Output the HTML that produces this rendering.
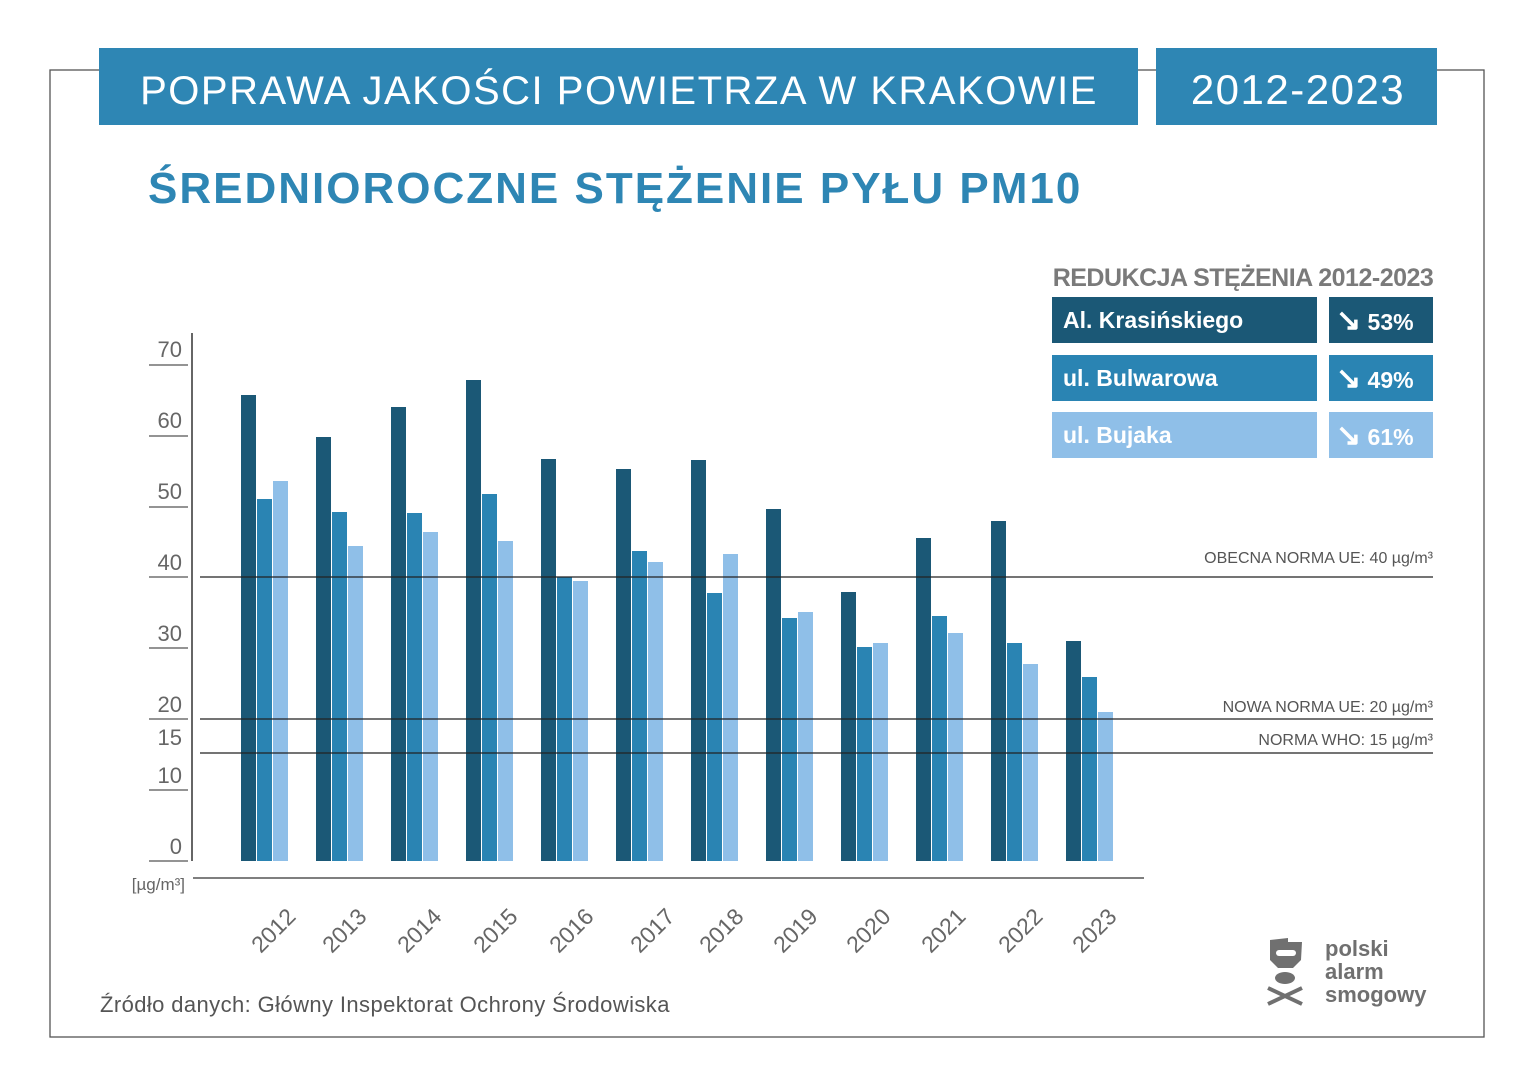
<!DOCTYPE html>
<html><head><meta charset="utf-8"><style>
html,body{margin:0;padding:0;background:#fff;}
svg{display:block;}
</style></head><body>
<svg width="1536" height="1083" viewBox="0 0 1536 1083" xmlns="http://www.w3.org/2000/svg" font-family="Liberation Sans, sans-serif">
<rect width="1536" height="1083" fill="#fff"/>
<rect x="50" y="70" width="1434" height="967" fill="none" stroke="#555" stroke-width="1.3"/>
<rect x="99" y="48" width="1039" height="77" fill="#2e86b4"/>
<rect x="1156" y="48" width="281" height="77" fill="#2e86b4"/>
<text x="619" y="104" text-anchor="middle" fill="#fff" font-size="40" letter-spacing="1.5">POPRAWA JAKOŚCI POWIETRZA W KRAKOWIE</text>
<text x="1298" y="104" text-anchor="middle" fill="#fff" font-size="42" letter-spacing="1.5">2012-2023</text>
<text x="148" y="203" fill="#2e86b4" font-size="44" font-weight="bold" letter-spacing="2">ŚREDNIOROCZNE STĘŻENIE PYŁU PM10</text>
<text x="1243" y="286" text-anchor="middle" fill="#7a7a7a" font-size="25" font-weight="bold" letter-spacing="-0.5">REDUKCJA STĘŻENIA 2012-2023</text>
<rect x="1052" y="297" width="265" height="46" fill="#1b5876"/>
<rect x="1329" y="297" width="104" height="46" fill="#1b5876"/>
<rect x="1052" y="355" width="265" height="46" fill="#2a84b3"/>
<rect x="1329" y="355" width="104" height="46" fill="#2a84b3"/>
<rect x="1052" y="412" width="265" height="46" fill="#8fbfe8"/>
<rect x="1329" y="412" width="104" height="46" fill="#8fbfe8"/>
<g fill="#fff" font-size="23" font-weight="bold">
<text x="1063" y="328">Al. Krasińskiego</text>
<text x="1063" y="386">ul. Bulwarowa</text>
<text x="1063" y="443">ul. Bujaka</text>
<text x="1336" y="330"><tspan font-size="30">↘</tspan> 53%</text>
<text x="1336" y="388"><tspan font-size="30">↘</tspan> 49%</text>
<text x="1336" y="445"><tspan font-size="30">↘</tspan> 61%</text>
</g>
<!-- axis -->
<line x1="192" y1="333" x2="192" y2="861" stroke="#333" stroke-width="1.5"/>
<line x1="193" y1="878" x2="1144" y2="878" stroke="#555" stroke-width="1.5"/>
<g stroke="#555" stroke-width="1.3">
<line x1="149" y1="365" x2="188" y2="365"/><line x1="149" y1="436" x2="188" y2="436"/>
<line x1="149" y1="507" x2="188" y2="507"/><line x1="149" y1="577" x2="188" y2="577"/>
<line x1="149" y1="648" x2="188" y2="648"/><line x1="149" y1="719" x2="188" y2="719"/>
<line x1="149" y1="790" x2="188" y2="790"/><line x1="149" y1="861" x2="188" y2="861"/>
</g>
<g fill="#666" font-size="22" text-anchor="end">
<text x="182" y="357">70</text><text x="182" y="428">60</text><text x="182" y="499">50</text>
<text x="182" y="570">40</text><text x="182" y="641">30</text><text x="182" y="712">20</text>
<text x="182" y="745">15</text><text x="182" y="783">10</text><text x="182" y="854">0</text>
</g>
<text x="185" y="890" text-anchor="end" fill="#666" font-size="17">[µg/m³]</text>
<!-- bars -->
<g>
<g fill="#1b5876">
<rect x="241" y="395" width="15" height="466"/><rect x="316" y="437" width="15" height="424"/>
<rect x="391" y="407" width="15" height="454"/><rect x="466" y="380" width="15" height="481"/>
<rect x="541" y="459" width="15" height="402"/><rect x="616" y="469" width="15" height="392"/>
<rect x="691" y="460" width="15" height="401"/><rect x="766" y="509" width="15" height="352"/>
<rect x="841" y="592" width="15" height="269"/><rect x="916" y="538" width="15" height="323"/>
<rect x="991" y="521" width="15" height="340"/><rect x="1066" y="641" width="15" height="220"/>
</g>
<g fill="#2a84b3">
<rect x="257" y="499" width="15" height="362"/><rect x="332" y="512" width="15" height="349"/>
<rect x="407" y="513" width="15" height="348"/><rect x="482" y="494" width="15" height="367"/>
<rect x="557" y="577" width="15" height="284"/><rect x="632" y="551" width="15" height="310"/>
<rect x="707" y="593" width="15" height="268"/><rect x="782" y="618" width="15" height="243"/>
<rect x="857" y="647" width="15" height="214"/><rect x="932" y="616" width="15" height="245"/>
<rect x="1007" y="643" width="15" height="218"/><rect x="1082" y="677" width="15" height="184"/>
</g>
<g fill="#8fbfe8">
<rect x="273" y="481" width="15" height="380"/><rect x="348" y="546" width="15" height="315"/>
<rect x="423" y="532" width="15" height="329"/><rect x="498" y="541" width="15" height="320"/>
<rect x="573" y="581" width="15" height="280"/><rect x="648" y="562" width="15" height="299"/>
<rect x="723" y="554" width="15" height="307"/><rect x="798" y="612" width="15" height="249"/>
<rect x="873" y="643" width="15" height="218"/><rect x="948" y="633" width="15" height="228"/>
<rect x="1023" y="664" width="15" height="197"/><rect x="1098" y="712" width="15" height="149"/>
</g>
</g>
<!-- norm lines -->
<g stroke="#222" stroke-width="1.3">
<line x1="200" y1="577" x2="1433" y2="577"/>
<line x1="200" y1="719" x2="1433" y2="719"/>
<line x1="200" y1="753" x2="1433" y2="753"/>
</g>
<g fill="#555" font-size="16" text-anchor="end">
<text x="1433" y="563">OBECNA NORMA UE: 40 µg/m³</text>
<text x="1433" y="712">NOWA NORMA UE: 20 µg/m³</text>
<text x="1433" y="745">NORMA WHO: 15 µg/m³</text>
</g>
<g fill="#666" font-size="23" text-anchor="end">
<text transform="translate(297,918) rotate(-45)">2012</text>
<text transform="translate(368,918) rotate(-45)">2013</text>
<text transform="translate(443,918) rotate(-45)">2014</text>
<text transform="translate(519,918) rotate(-45)">2015</text>
<text transform="translate(595,918) rotate(-45)">2016</text>
<text transform="translate(676,918) rotate(-45)">2017</text>
<text transform="translate(745,918) rotate(-45)">2018</text>
<text transform="translate(819,918) rotate(-45)">2019</text>
<text transform="translate(892,918) rotate(-45)">2020</text>
<text transform="translate(967,918) rotate(-45)">2021</text>
<text transform="translate(1044,918) rotate(-45)">2022</text>
<text transform="translate(1118,918) rotate(-45)">2023</text>
</g>
<text x="100" y="1012" fill="#555" font-size="22" letter-spacing="0.4">Źródło danych: Główny Inspektorat Ochrony Środowiska</text>
<!-- logo -->
<g fill="#707070">
<path d="M1270 940 L1288 938 L1288 942 L1302 942 L1301 960 L1293 968 L1278 968 L1270 960 Z"/>
<rect x="1276" y="950" width="20" height="6" rx="3" fill="#fff"/>
<ellipse cx="1285" cy="978" rx="10" ry="6"/>
<path d="M1268 988 L1302 1004 M1302 988 L1268 1004" stroke="#707070" stroke-width="4"/>
</g>
<g fill="#707070" font-size="22" font-weight="bold">
<text x="1325" y="956">polski</text>
<text x="1325" y="979">alarm</text>
<text x="1325" y="1002">smogowy</text>
</g>
</svg>
</body></html>
